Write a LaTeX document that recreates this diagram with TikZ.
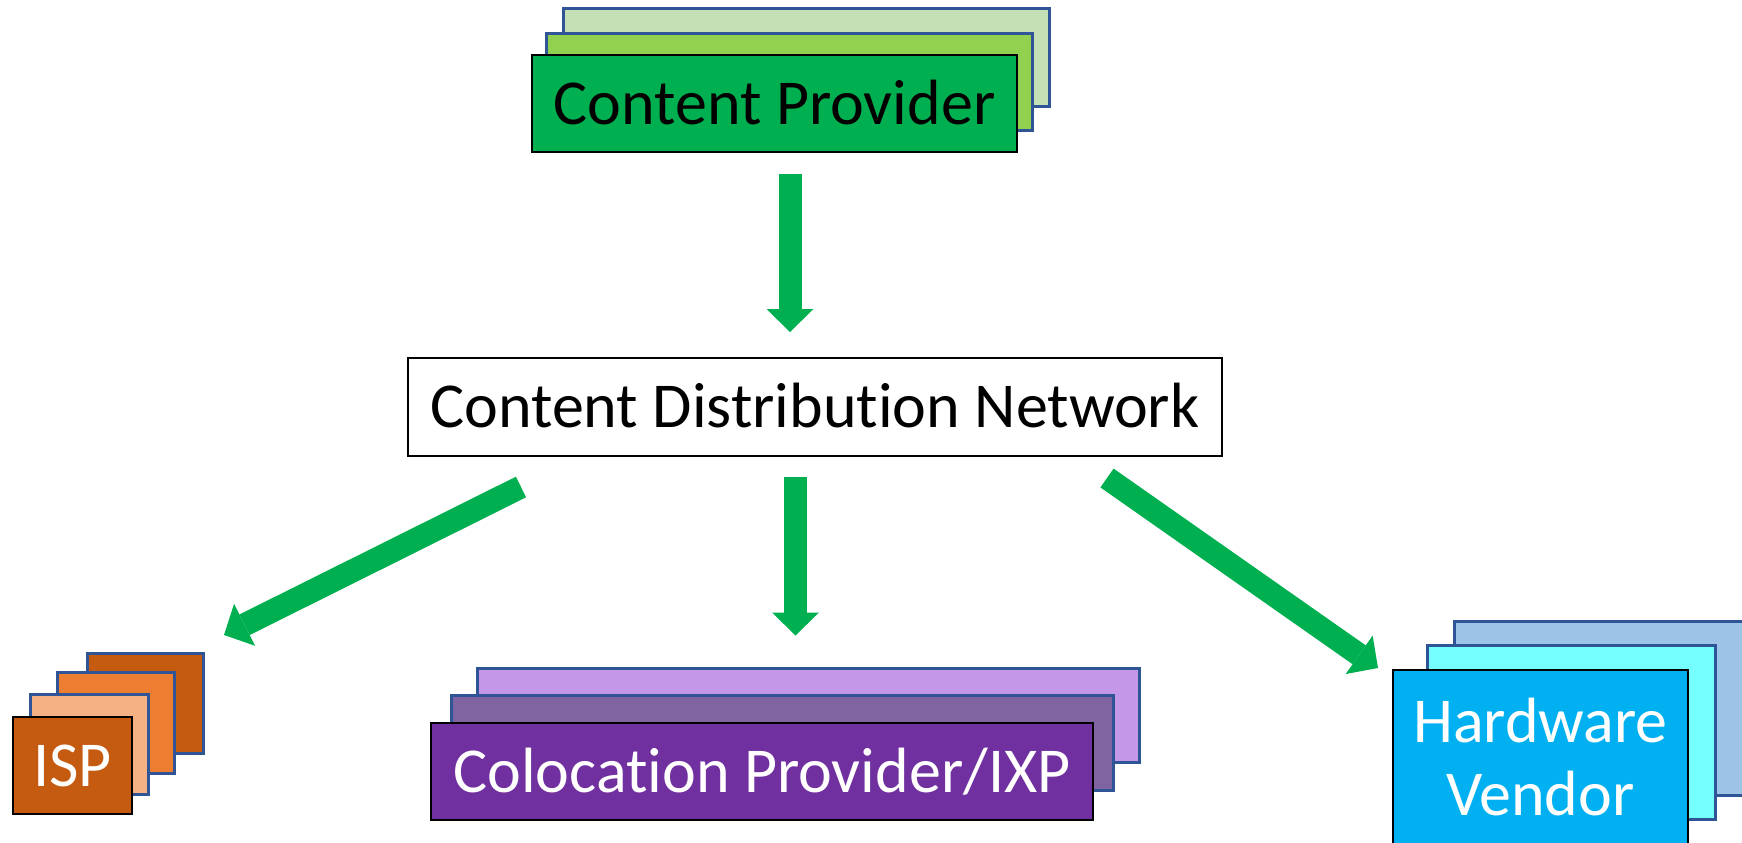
\documentclass[tikz,border=0pt]{standalone}
\usepackage{fontspec}
\setmainfont{Carlito}[Ligatures={NoCommon}]
\usetikzlibrary{arrows.meta,calc}

\definecolor{edgeblue}{HTML}{2F5597}
\definecolor{flowgreen}{HTML}{00B050}
\definecolor{cpA}{HTML}{00B050}
\definecolor{cpB}{HTML}{92D050}
\definecolor{cpC}{HTML}{C5E0B4}
\definecolor{ispA}{HTML}{C55A11}
\definecolor{ispB}{HTML}{F4B183}
\definecolor{ispC}{HTML}{ED7D31}
\definecolor{coA}{HTML}{7030A0}
\definecolor{coB}{HTML}{8064A2}
\definecolor{coC}{HTML}{C597E8}
\definecolor{hwA}{HTML}{00B0F0}
\definecolor{hwB}{HTML}{75FFFF}
\definecolor{hwC}{HTML}{9DC3E6}

\tikzset{
  card/.style={rectangle, inner sep=0pt, outer sep=0pt},
  layer/.style={card, draw=edgeblue, line width=1.5pt},
  topcard/.style={card, draw=black, line width=1pt,
    font=\fontsize{32}{36.5}\selectfont, text height=20.6pt, text depth=0pt},
  flow/.style={draw=flowgreen, line width=11.5pt,
    -{Triangle[length=11.5pt,width=23.5pt,line width=0pt]}},
}

\begin{document}
\begin{tikzpicture}[x=0.5pt,y=-0.5pt]
\useasboundingbox (0,0) rectangle (1742,842);

% Content provider stack
\node[layer, fill=cpC, minimum width=243pt, minimum height=49pt] (cp3) at (806,57) {};
\node[layer, fill=cpB, minimum width=243pt, minimum height=48.5pt] (cp2) at (789,81.5) {};
\node[topcard, fill=cpA, minimum width=242.5pt, minimum height=48.5pt] (cp) at (774.5,103.5) {Content Provider};

% Distribution network
\node[topcard, fill=white, line width=0.75pt, minimum width=407pt, minimum height=49pt] (cdn) at (815,407) {Content Distribution Network};

% ISP stack
\node[layer, fill=ispA, minimum width=58pt, minimum height=50pt] (isp4) at (145,703) {};
\node[layer, fill=ispC, minimum width=58.5pt, minimum height=50.5pt] (isp3) at (115.5,722.5) {};
\node[layer, fill=ispB, minimum width=59pt, minimum height=50pt] (isp2) at (89,744) {};
\node[topcard, fill=ispA, text=white, minimum width=59.5pt, minimum height=48.5pt] (isp) at (72.5,765.5) {ISP};

% Colocation stack
\node[layer, fill=coC, minimum width=331pt, minimum height=47pt] (colo3) at (808,715) {};
\node[layer, fill=coB, minimum width=331pt, minimum height=47.5pt] (colo2) at (782,742.5) {};
\node[topcard, fill=coA, text=white, minimum width=331pt, minimum height=48.5pt] (colo) at (762,771.5) {Colocation Provider/IXP};

% Hardware vendor stack (front card runs past the lower edge)
\node[layer, fill=hwC, minimum width=148pt, minimum height=87pt] (hv3) at (1602,708) {};
\node[layer, fill=hwB, minimum width=144pt, minimum height=87pt] (hv2) at (1571,732) {};
\node[topcard, fill=hwA, text=white, align=center, text height=57.1pt, text depth=0pt,
      minimum width=147.5pt, minimum height=88pt] (hv) at (1540.5,758) {Hardware\\Vendor};

% Flows
\draw[flow] ($(cp.south)+(15.5,22)$) -- ($(cdn.north)+(-25,-26)$);
\draw[flow] ($(cdn.south)+(-19.5,21)$) -- ($(colo3.north)+(-12.5,-32.5)$);
\draw[flow] ($(cdn.south west)+(113,31)$) -- ($(isp4.north east)+(21,-18)$);
\draw[flow] ($(cdn.south east)+(-115,22)$) -- ($(hv.north west)+(-15,-2)$);
\end{tikzpicture}
\end{document}
